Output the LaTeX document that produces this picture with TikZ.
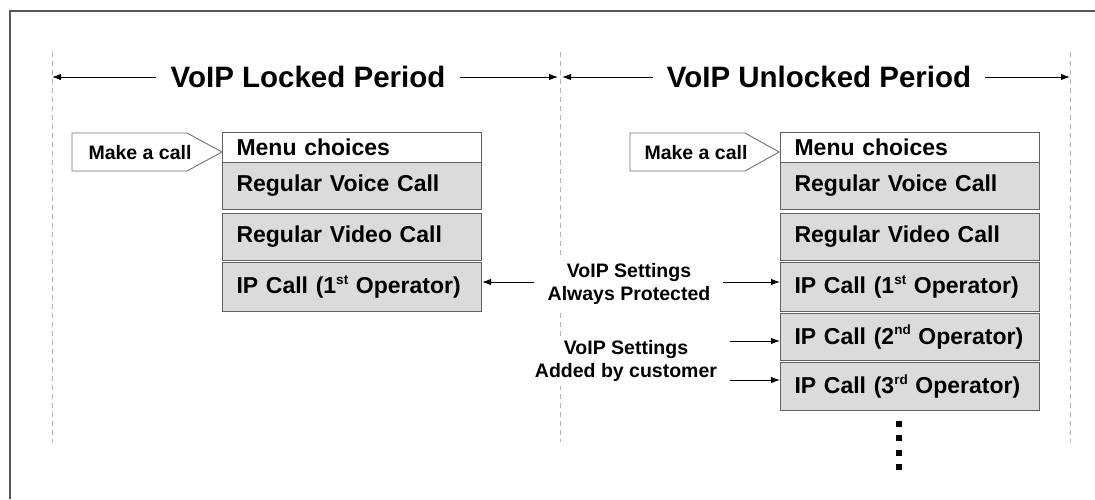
\documentclass[tikz,border=0pt]{standalone}
\usepackage{fontspec}
\setmainfont{Liberation Sans}
\usetikzlibrary{arrows.meta}
\newcommand\myss[1]{\raisebox{0.42em}{\fontsize{13.5}{14}\selectfont #1}}
\begin{document}
\begin{tikzpicture}[x=1pt,y=-1pt,
  rowbox/.style={draw=black!62, line width=1.1pt, fill=black!14, anchor=north west,
    text width=245pt, inner xsep=7pt, inner ysep=0pt, align=left,
    execute at begin node={\hspace*{7pt}},
    font=\fontsize{23}{26}\selectfont\bfseries, text=black},
  menubox/.style={rowbox, fill=white},
  title/.style={font=\fontsize{29.5}{32}\selectfont\bfseries, inner xsep=14pt},
  side/.style={font=\fontsize{19.5}{23}\selectfont\bfseries, align=center, fill=white, inner sep=4pt},
  calltext/.style={font=\fontsize{19.5}{22}\selectfont\bfseries},
  callout/.style={draw=black!55, line width=0.9pt, fill=white},
  guide/.style={draw=black!30, line width=0.8pt, dash pattern=on 5pt off 4pt},
  arr/.style={-{Latex[length=9pt,width=6.5pt]}, line width=1pt},
  frame/.style={draw=black!65, line width=1.6pt},
  dots/.style={line width=6pt, dash pattern=on 6pt off 8.4pt}]

\useasboundingbox (0,0) rectangle (1095,499);

% frame
\draw[frame] (10,499) -- (10,11) -- (1095,11);

% period guides
\coordinate (g1t) at (52,52);   \coordinate (g1b) at (52,442);
\coordinate (g2t) at (560,52);  \coordinate (g2b) at (560,442);
\coordinate (g3t) at (1070,52); \coordinate (g3b) at (1070,442);
\draw[guide] (g1t) -- (g1b);
\draw[guide] (g2t) -- (g2b);
\draw[guide] (g3t) -- (g3b);

% titles
\node[title] (ltitle) at (308,77) {VoIP Locked Period};
\node[title] (rtitle) at (819,77) {VoIP Unlocked Period};
\draw[arr] (ltitle.west) -- (g1t |- ltitle.west);
\draw[arr] (ltitle.east) -- ([xshift=-2pt]g2t |- ltitle.east);
\draw[arr] (rtitle.west) -- ([xshift=2pt]g2t |- rtitle.west);
\draw[arr] (rtitle.east) -- (g3t |- rtitle.east);

% left menu
\node[menubox, minimum height=30pt] (lmenu)  at (222,132) {Menu choices};
\node[rowbox,  minimum height=47pt] (lvoice) at (222,162) {Regular Voice Call};
\node[rowbox,  minimum height=47pt] (lvideo) at (222,213) {Regular Video Call};
\node[rowbox,  minimum height=49pt] (lip1)   at (222,262) {IP Call (1\myss{st} Operator)};

% right menu
\node[menubox, minimum height=30pt] (rmenu)  at (780,132) {Menu choices};
\node[rowbox,  minimum height=47pt] (rvoice) at (780,162) {Regular Voice Call};
\node[rowbox,  minimum height=47pt] (rvideo) at (780,213) {Regular Video Call};
\node[rowbox,  minimum height=49pt] (rip1)   at (780,262) {IP Call (1\myss{st} Operator)};
\node[rowbox,  minimum height=47pt] (rip2)   at (780,313) {IP Call (2\myss{nd} Operator)};
\node[rowbox,  minimum height=48pt] (rip3)   at (780,362) {IP Call (3\myss{rd} Operator)};

% continuation dots
\coordinate (dtop) at (899,421);
\coordinate (dbot) at (899,472);
\draw[dots] (dtop) -- (dbot);

% "Make a call" callouts
\coordinate (ltip) at (222,152);
\draw[callout] (72,133) -- (187,133) -- (ltip) -- (187,171) -- (72,171) -- cycle;
\node[calltext] (lcall) at (140,153) {Make a call};
\coordinate (rtip) at (779,152);
\draw[callout] (630,133) -- (745,133) -- (rtip) -- (745,171) -- (630,171) -- cycle;
\node[calltext] (rcall) at (696,153) {Make a call};

% middle labels
\node[side] (prot) at (629,284) {VoIP Settings\\Always Protected};
\node[side] (cust) at (626,361) {VoIP Settings\\Added by customer};

% connectors
\coordinate (p1) at (534,282);
\coordinate (p2) at (723,282);
\coordinate (c1) at (730,341);
\coordinate (c2) at (730,380);
\draw[arr] (p1) -- (p1 -| lip1.east);
\draw[arr] (p2) -- (p2 -| rip1.west);
\draw[arr] (c1) -- (c1 -| rip2.west);
\draw[arr] (c2) -- (c2 -| rip3.west);
\end{tikzpicture}
\end{document}
